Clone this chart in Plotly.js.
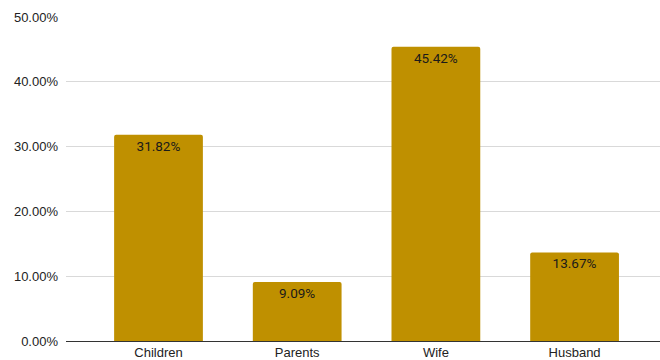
<!DOCTYPE html>
<html>
<head>
<meta charset="utf-8">
<script src="https://cdn.plot.ly/plotly-3.0.1.min.js"></script>
<style>html,body{margin:0;padding:0;background:#fff;}#chart{width:660px;height:360px;}</style>
</head>
<body>
<div id="chart"></div>
<script>
const categories = ["Children", "Parents", "Wife", "Husband"];
const values = [0.3182, 0.0909, 0.4542, 0.1367];
const valueLabels = ["31.82%", "9.09%", "45.42%", "13.67%"];
const tickValues = [0, 0.1, 0.2, 0.3, 0.4, 0.5];
const tickLabels = ["0.00%", "10.00%", "20.00%", "30.00%", "40.00%", "50.00%"];

const trace = {
  type: "bar",
  x: categories,
  y: values,
  text: valueLabels,
  textposition: "inside",
  insidetextanchor: "end",
  textangle: 0,
  textfont: {family: "Roboto, 'Liberation Sans', Arial, sans-serif", size: 13.5, color: "#1a1a1a"},
  marker: {color: "#BF9000"},
  width: 0.64,
  hoverinfo: "none",
  cliponaxis: false
};

const layout = {
  width: 660,
  height: 360,
  margin: {l: 66, r: 0, t: 17, b: 19},
  paper_bgcolor: "#ffffff",
  plot_bgcolor: "#ffffff",
  showlegend: false,
  barcornerradius: 2,
  font: {family: "'Liberation Sans', Arial, sans-serif", size: 13, color: "#222"},
  xaxis: {
    type: "category",
    range: [-0.667, 3.616],
    showgrid: false,
    showline: false,
    zeroline: false,
    ticks: "",
    tickfont: {size: 13, color: "#222"},
    ticklabelstandoff: 2
  },
  yaxis: {
    range: [0, 0.5],
    tickvals: tickValues,
    ticktext: tickLabels,
    showgrid: true,
    gridcolor: "#d9d9d9",
    gridwidth: 1,
    zeroline: true,
    zerolinecolor: "#333333",
    zerolinewidth: 1,
    showline: false,
    ticks: "",
    ticklabelstandoff: 7,
    tickfont: {size: 13, color: "#222"}
  }
};

Plotly.newPlot("chart", [trace], layout, {displayModeBar: false, staticPlot: true});
</script>
</body>
</html>
